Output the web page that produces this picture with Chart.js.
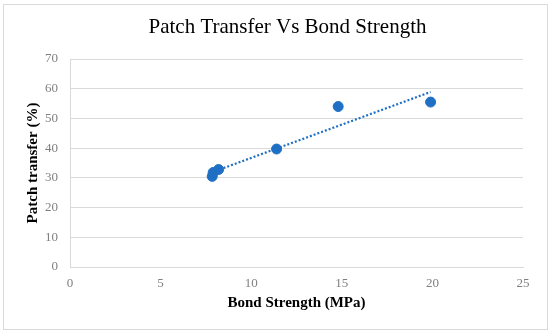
<!DOCTYPE html>
<html><head><meta charset="utf-8">
<script src="https://cdn.jsdelivr.net/npm/chart.js@4/dist/chart.umd.min.js"></script>
<style>
html,body{margin:0;padding:0;background:#fff;}
#frame{position:absolute;left:3px;top:4px;width:543px;height:324px;border:1px solid #d9d9d9;}
canvas{position:absolute;left:0;top:0;}
</style></head>
<body>
<div id="frame"></div>
<canvas id="c" width="550" height="334"></canvas>
<script>
const bondStrength = [7.85, 7.9, 8.2, 11.4, 14.8, 19.9];
const patchTransfer = [30.5, 31.8, 32.8, 39.7, 54.0, 55.5];
const trendX = [7.85, 19.9];
const trendY = [31.9, 58.9];
const xTicks = [0, 5, 10, 15, 20, 25];
const yTicks = [0, 10, 20, 30, 40, 50, 60, 70];

const blue = '#1f6fc4';
const serif = '"Liberation Serif", "Times New Roman", serif';
const points = bondStrength.map((x, i) => ({x: x, y: patchTransfer[i]}));
const trend = trendX.map((x, i) => ({x: x, y: trendY[i]}));

const shiftTitle = {
  id: 'shiftTitle',
  afterLayout(chart) {
    const t = chart.titleBlock;
    if (t) { t.left += 26; t.right += 26; }
  }
};

new Chart(document.getElementById('c'), {
  type: 'scatter',
  data: {
    datasets: [
      {type: 'line', data: trend, borderColor: blue, borderWidth: 2.2, borderDash: [2, 2],
       pointRadius: 0, fill: false, order: 2},
      {data: points, backgroundColor: blue, borderColor: blue, pointRadius: 5, order: 1}
    ]
  },
  plugins: [shiftTitle],
  options: {
    responsive: false,
    animation: false,
    devicePixelRatio: 1,
    layout: {padding: {left: 0, right: 27, top: 0, bottom: 0}},
    plugins: {
      legend: {display: false},
      tooltip: {enabled: false},
      title: {display: true, text: 'Patch Transfer Vs Bond Strength', color: '#000',
        font: {family: serif, size: 21, weight: 'normal'},
        padding: {top: 15, bottom: 18.8}}
    },
    scales: {
      x: {
        type: 'linear', min: 0, max: 25,
        afterBuildTicks: s => { s.ticks = xTicks.map(v => ({value: v})); },
        afterFit: s => { s.height = 67; },
        grid: {display: false, drawTicks: false},
        border: {display: true, color: '#d9d9d9', width: 1},
        ticks: {color: '#808080', padding: 9, font: {family: serif, size: 13}},
        title: {display: true, text: 'Bond Strength (MPa)', color: '#000',
          font: {family: serif, size: 15, weight: 'bold'},
          padding: {top: 0, bottom: 22}}
      },
      y: {
        type: 'linear', min: 0, max: 70,
        afterBuildTicks: s => { s.ticks = yTicks.map(v => ({value: v})); },
        afterFit: s => { s.width = 70; },
        grid: {color: '#d9d9d9', lineWidth: 1, drawTicks: false},
        border: {display: true, color: '#d9d9d9', width: 1},
        ticks: {color: '#808080', padding: 12, font: {family: serif, size: 13}},
        title: {display: true, text: 'Patch transfer (%)', color: '#000',
          font: {family: serif, size: 15, weight: 'bold'},
          padding: {top: 24, bottom: 0}}
      }
    }
  }
});
</script>
</body></html>
